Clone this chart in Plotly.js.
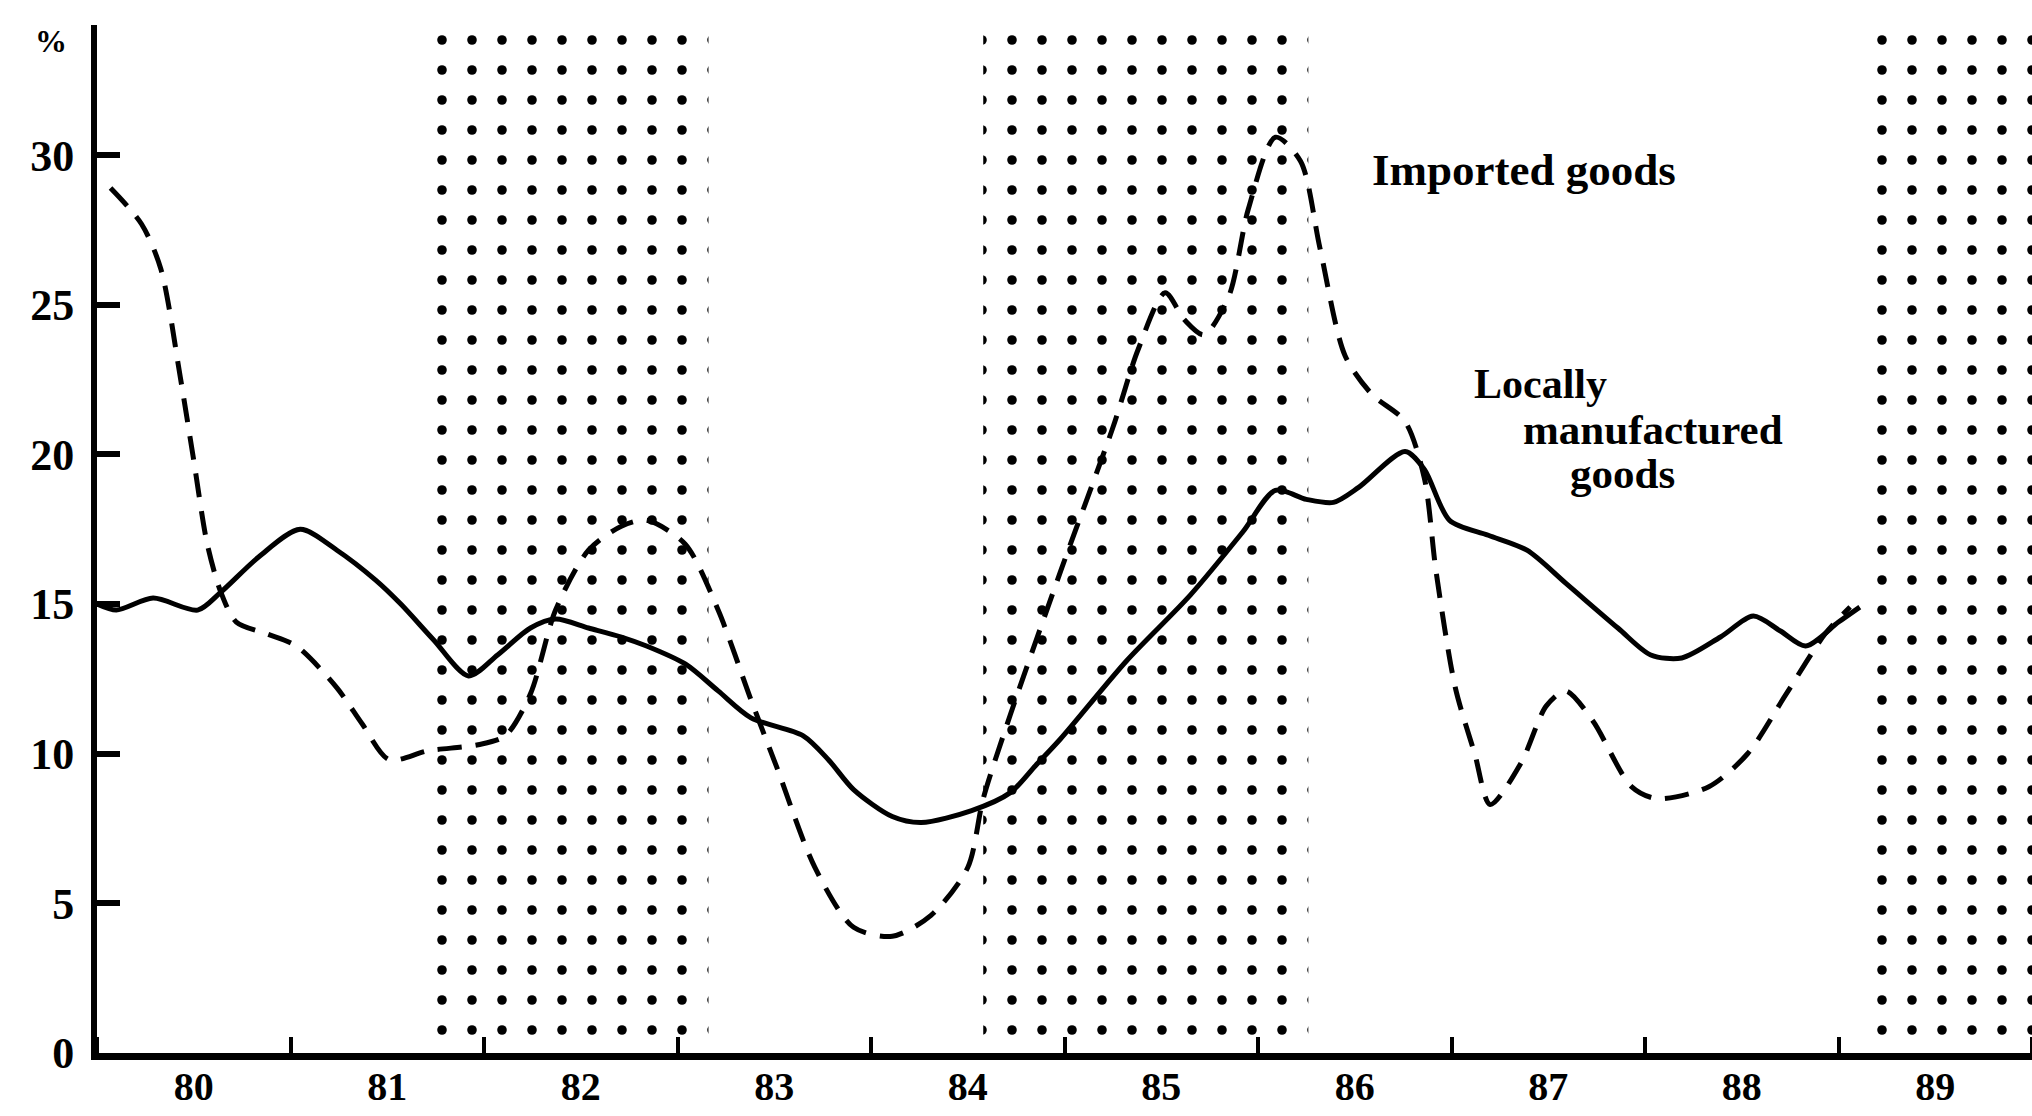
<!DOCTYPE html>
<html>
<head>
<meta charset="utf-8">
<script src="https://cdn.plot.ly/plotly-3.0.1.min.js"></script>
<style>html,body{margin:0;padding:0;background:#fff;}#chart{width:2032px;height:1116px;}</style>
</head>
<body>
<div id="chart"></div>
<script>
// ---- data ----
var localYears = [1980.00,1980.10,1980.29,1980.52,1980.64,1980.84,1981.05,1981.24,1981.44,1981.57,1981.74,1981.92,1982.07,1982.24,1982.37,1982.54,1982.71,1982.84,1983.04,1983.21,1983.38,1983.65,1983.78,1983.91,1984.11,1984.26,1984.52,1984.72,1984.85,1984.98,1985.32,1985.65,1985.92,1986.09,1986.25,1986.39,1986.52,1986.76,1986.86,1986.99,1987.19,1987.39,1987.59,1987.86,1988.03,1988.19,1988.39,1988.56,1988.70,1988.83,1989.00,1989.11];
var localVals  = [15.0,14.8,15.2,14.8,15.4,16.6,17.5,16.8,15.8,15.0,13.8,12.6,13.3,14.2,14.5,14.2,13.9,13.6,13.0,12.1,11.2,10.6,9.8,8.8,7.9,7.7,8.1,8.7,9.6,10.5,13.1,15.3,17.4,18.8,18.5,18.4,18.9,20.1,19.5,17.8,17.3,16.8,15.7,14.2,13.3,13.2,13.9,14.6,14.1,13.6,14.4,14.9];

var importYears = [1980.07,1980.23,1980.33,1980.43,1980.50,1980.57,1980.64,1980.72,1980.88,1981.03,1981.24,1981.37,1981.51,1981.71,1981.97,1982.11,1982.24,1982.37,1982.54,1982.71,1982.84,1983.04,1983.21,1983.38,1983.51,1983.71,1983.91,1984.11,1984.31,1984.50,1984.58,1984.72,1984.98,1985.25,1985.38,1985.52,1985.62,1985.72,1985.85,1985.95,1986.09,1986.22,1986.32,1986.45,1986.59,1986.76,1986.86,1986.92,1987.02,1987.12,1987.20,1987.36,1987.49,1987.59,1987.73,1987.93,1988.06,1988.33,1988.53,1988.73,1988.93,1989.06];
var importVals  = [28.9,27.7,26.2,22.6,19.8,17.0,15.4,14.4,14.0,13.6,12.2,11.0,9.8,10.1,10.3,10.6,12.0,14.8,16.8,17.6,17.8,17.0,14.8,11.8,9.6,6.2,4.2,3.9,4.6,6.2,8.5,11.3,16.1,20.9,23.5,25.4,24.5,24.0,25.3,28.2,30.6,29.8,26.9,23.3,22.0,21.1,19.2,16.1,12.2,10.0,8.3,9.7,11.6,12.1,11.1,8.9,8.5,8.9,10.0,12.0,14.0,14.9];

// shaded periods
var bandStarts = [1981.75, 1984.58, 1989.11];
var bandEnds   = [1983.16, 1986.26, 1990.00];

// axis ticks
var yTicks = [0, 5, 10, 15, 20, 25, 30];
var xTickVals = [1980.5,1981.5,1982.5,1983.5,1984.5,1985.5,1986.5,1987.5,1988.5,1989.5];
var xTickText = ['80','81','82','83','84','85','86','87','88','89'];

var xRange = [1980, 1990];
var yRange = [0, 34.35];

// ---- traces ----
var traces = [];
for (var i = 0; i < bandStarts.length; i++) {
  var a = bandStarts[i], b = bandEnds[i];
  traces.push({
    type: 'scatter', mode: 'lines',
    x: [a, a, b, b, a],
    y: [yRange[0], yRange[1], yRange[1], yRange[0], yRange[0]],
    fill: 'toself',
    fillcolor: '#ffffff',
    fillpattern: {shape: '.', size: 30, solidity: 0.08, fgcolor: '#000000', fgopacity: 1, bgcolor: '#ffffff', fillmode: 'replace'},
    line: {width: 0, color: 'rgba(0,0,0,0)'},
    hoverinfo: 'skip', showlegend: false
  });
}
traces.push({
  type: 'scatter', mode: 'lines', name: 'Locally manufactured goods',
  x: localYears, y: localVals,
  line: {color: '#000', width: 5, shape: 'spline', smoothing: 0.8},
  showlegend: false
});
traces.push({
  type: 'scatter', mode: 'lines', name: 'Imported goods',
  x: importYears, y: importVals,
  line: {color: '#000', width: 5, dash: '24px,14px', shape: 'spline', smoothing: 0.8},
  showlegend: false
});

var serif = 'Liberation Serif, Times New Roman, serif';

var layout = {
  width: 2032, height: 1116,
  margin: {l: 97, r: 0, t: 25, b: 63, pad: 0},
  paper_bgcolor: '#fff', plot_bgcolor: '#fff',
  showlegend: false,
  xaxis: {
    range: xRange, fixedrange: true,
    showgrid: false, zeroline: false,
    showline: true, linecolor: '#000', linewidth: 7,
    tickmode: 'array', tickvals: xTickVals, ticktext: xTickText,
    ticks: '', ticklabelstandoff: -8,
    tickfont: {family: serif, size: 40, color: '#000', weight: 'bold'},
    minor: {tickmode: 'linear', tick0: 1980, dtick: 1, ticks: 'inside', ticklen: 16, tickwidth: 4, tickcolor: '#000', showgrid: false}
  },
  yaxis: {
    range: yRange, fixedrange: true,
    showgrid: false, zeroline: false,
    showline: true, linecolor: '#000', linewidth: 6,
    tickmode: 'array', tickvals: yTicks, ticktext: yTicks.map(String),
    ticks: 'inside', ticklen: 23, tickwidth: 6, tickcolor: '#000',
    ticklabelstandoff: 8,
    tickfont: {family: serif, size: 44, color: '#000', weight: 'bold'}
  },
  annotations: [
    {text: '%', xref: 'paper', yref: 'y', x: -0.024, y: 33.8, xanchor: 'center', yanchor: 'middle', showarrow: false,
     font: {family: serif, size: 32, color: '#000', weight: 'bold'}},
    {text: 'Imported goods', xref: 'x', yref: 'y', x: 1986.579, y: 29.5, xanchor: 'left', yanchor: 'middle', showarrow: false,
     font: {family: serif, size: 45, color: '#000', weight: 'bold'}},
    {text: 'Locally', xref: 'x', yref: 'y', x: 1987.106, y: 22.35, xanchor: 'left', yanchor: 'middle', showarrow: false,
     font: {family: serif, size: 42, color: '#000', weight: 'bold'}},
    {text: 'manufactured', xref: 'x', yref: 'y', x: 1987.36, y: 20.85, xanchor: 'left', yanchor: 'middle', showarrow: false,
     font: {family: serif, size: 43, color: '#000', weight: 'bold'}},
    {text: 'goods', xref: 'x', yref: 'y', x: 1987.60, y: 19.35, xanchor: 'left', yanchor: 'middle', showarrow: false,
     font: {family: serif, size: 43, color: '#000', weight: 'bold'}}
  ]
};

Plotly.newPlot('chart', traces, layout, {displayModeBar: false, staticPlot: true});
</script>
</body>
</html>
